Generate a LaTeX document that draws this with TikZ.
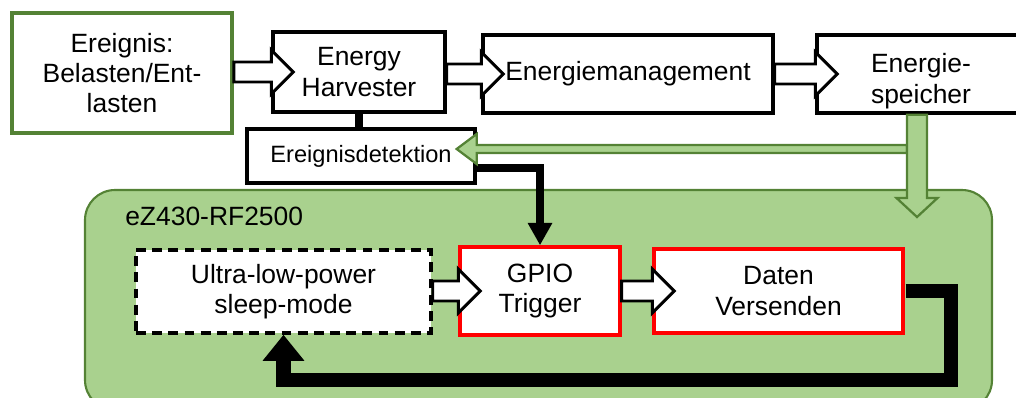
\documentclass[tikz,border=0pt]{standalone}
\usepackage{fontspec}
\setmainfont{Liberation Sans}
\usetikzlibrary{calc,arrows.meta}
\definecolor{leafgreen}{HTML}{548235}
\definecolor{boardgreen}{HTML}{A9D18E}

% hollow block arrow from #2 (east side) into #3 (west side)
\newcommand{\blockarrow}[3][]{%
\draw[blockarr,#1] ($(#2.east |- #3.west)+(0,-10)$) -- ($(#3.west)+(0,-10)$) -- ($(#3.west)+(0,-22)$)
  -- ($(#3.west)+(22,0)$) -- ($(#3.west)+(0,22)$) -- ($(#3.west)+(0,10)$) -- ($(#2.east |- #3.west)+(0,10)$) -- cycle;}

\begin{document}
\begin{tikzpicture}[x=0.025cm,y=-0.025cm,
  font=\fontsize{18.8pt}{21.6pt}\selectfont,
  sz/.style 2 args={minimum width=#1*0.025cm,minimum height=#2*0.025cm},
  box/.style={draw=black,line width=2.4pt,fill=white,inner sep=0pt,align=center},
  redbox/.style={box,draw=red},
  sleepbox/.style={box,line width=2.5pt,dash pattern=on 7pt off 4.5pt},
  eventbox/.style={box,draw=leafgreen,line width=2.8pt},
  blockarr/.style={draw=black,line width=2.1pt,fill=white,line join=miter},
  greenarr/.style={draw=leafgreen,line width=1.6pt,fill=boardgreen,line join=miter},
  board/.style={draw=leafgreen,line width=1.5pt,fill=boardgreen,rounded corners=0.75cm,inner sep=0pt},
  wire/.style={line width=5pt},
  loopwire/.style={line width=10pt,-{Triangle[length=18.5pt,width=28.5pt]}}]
\useasboundingbox (0,0) rectangle (1016,397);
\clip (0,0) rectangle (1016,397);

% board
\node[board,sz={907}{220}] (board) at (538.5,300) {};
\node[anchor=base west,inner sep=0pt] (boardlbl) at (125,225) {eZ430-RF2500};

% top row
\node[eventbox,sz={220}{120}] (event) at (122,73) {Ereignis:\\Belasten/Ent-\\lasten};
\node[box,sz={172}{80}] (harv) at (359,72) {Energy\\Harvester};
\node[box,sz={290}{78}] (mgmt) at (628,74) {Energiemanagement};
\node[box,sz={208}{78}] (store) at (921,74) {};
\node[align=center,inner sep=0pt] (storetxt) at (921,81) {Energie-\\speicher};
\node[box,sz={228}{54},font=\fontsize{16.8pt}{19pt}\selectfont] (det) at (361,156) {Ereignisdetektion};

% board contents
\node[sleepbox,sz={295}{83}] (sleep) at (283.5,291.5) {Ultra-low-power\\sleep-mode};
\node[redbox,sz={160}{88}] (gpio) at (540,291) {GPIO\\Trigger};
\node[redbox,sz={249}{84}] (send) at (778.5,291) {Daten\\Versenden};

% thick connectors
\draw[wire] (harv.south) -- (harv.south |- det.north);
\draw[wire,-{Triangle[length=16pt,width=16.5pt]}] ($(det.east)+(0,12)$) -| (gpio.north);
\coordinate (loopR) at (951,380);
\draw[loopwire] ($(send.east)+(1,0)$) -| (loopR) -| (sleep.south);

% hollow arrows
\blockarrow{event}{harv}
\blockarrow{harv}{mgmt}
\blockarrow{mgmt}{store}
\blockarrow{sleep}{gpio}
\blockarrow{gpio}{send}

% energy from the store
\coordinate (tap) at (907,149);
\coordinate (detin) at ($(det.east)+(0,-7)$);
\draw[greenarr] ($(tap)+(0,-4)$) -- ($(detin)+(0,-4)$) -- ($(detin)+(0,-15)$) -- ($(detin)+(-20,0)$)
  -- ($(detin)+(0,15)$) -- ($(detin)+(0,4)$) -- ($(tap)+(0,4)$) -- cycle;
\coordinate (stotop) at (store.south -| 917,0);
\coordinate (stotip) at (917,217);
\draw[greenarr] ($(stotop)+(-10,0)$) -- ($(stotip)+(-10,-19)$) -- ($(stotip)+(-20.5,-19)$) -- (stotip)
  -- ($(stotip)+(20.5,-19)$) -- ($(stotip)+(10,-19)$) -- ($(stotop)+(10,0)$) -- cycle;
\end{tikzpicture}
\end{document}
